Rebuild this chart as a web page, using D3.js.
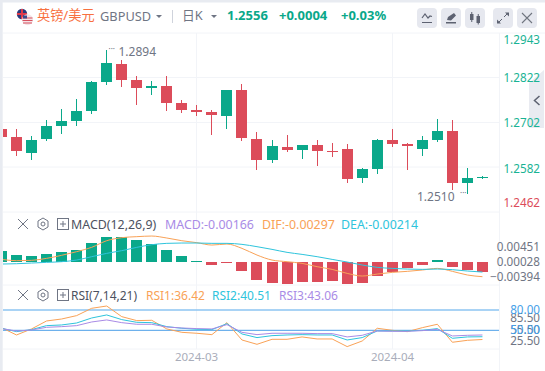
<!DOCTYPE html>
<html><head><meta charset="utf-8">
<style>html,body{margin:0;padding:0;background:#fff;overflow:hidden}svg{display:block}text{font-family:"Noto Sans","Noto Sans CJK SC",sans-serif}</style>
<script src="https://cdn.jsdelivr.net/npm/d3@7/dist/d3.min.js"></script>
</head><body><svg id="c" width="545" height="371"></svg>
<script>
const opens=[1.26835,1.26621,1.26192,1.26567,1.26916,1.27049,1.27317,1.28094,1.28576,1.28148,1.27933,1.27987,1.27532,1.27344,1.27291,1.27183,1.27880,1.26567,1.26005,1.26353,1.26273,1.26406,1.26246,1.26299,1.25523,1.25764,1.26540,1.26433,1.26299,1.26540,1.26782,1.25389,1.25523];
const closes=[1.26621,1.26246,1.26540,1.26916,1.27049,1.27317,1.28094,1.28603,1.28148,1.27933,1.27987,1.27532,1.27344,1.27291,1.27210,1.27880,1.26594,1.26005,1.26380,1.26273,1.26406,1.26246,1.26219,1.25496,1.25764,1.26540,1.26433,1.26380,1.26540,1.26782,1.25389,1.25523,1.25560];
const highs=[1.26835,1.26835,1.26648,1.27076,1.27371,1.27639,1.28121,1.2894,1.28683,1.28255,1.28121,1.28255,1.27612,1.27478,1.27344,1.27880,1.28041,1.26755,1.26540,1.26674,1.26406,1.26540,1.26460,1.26433,1.25791,1.26567,1.26835,1.26460,1.26648,1.27103,1.27076,1.25791,1.25576];
const lows=[1.26621,1.26112,1.26005,1.26513,1.26701,1.26916,1.27237,1.28014,1.27960,1.27478,1.27746,1.27317,1.27264,1.27183,1.26674,1.26835,1.26513,1.25737,1.25924,1.26219,1.26031,1.25844,1.26085,1.25389,1.25389,1.25630,1.26353,1.25737,1.26112,1.26487,1.25201,1.2510,1.25496];
const priceTicks=[1.2943,1.2822,1.2702,1.2582,1.2462];
const macdBars=[.00183,.00116,.00100,.00133,.00166,.00199,.00315,.00415,.00415,.00365,.00299,.00199,.00100,.00017,-.00050,-.00017,-.00149,-.00299,-.00349,-.00365,-.00332,-.00332,-.00315,-.00365,-.00349,-.00232,-.00166,-.00100,-.00050,.00033,-.00083,-.00133,-.00166];
const dif=[.00011,-.00012,-.00006,.00029,.00083,.00148,.00225,.00343,.00397,.00415,.00426,.00391,.00343,.00308,.00266,.00284,.00207,.00088,-.00001,-.00030,-.00060,-.00119,-.00167,-.00238,-.00285,-.00250,-.00220,-.00202,-.00178,-.00149,-.00202,-.00267,-.00297];
const dea=[-.00072,-.00066,-.00054,-.00042,-.00030,-.00001,.00059,.00118,.00166,.00225,.00272,.00296,.00302,.00302,.00296,.00296,.00278,.00237,.00189,.00136,.00100,.00059,.00011,-.00036,-.00089,-.00131,-.00149,-.00161,-.00167,-.00161,-.00172,-.00196,-.00214];
const macdTicks=[0.00451,0.00028,-0.00394];
const rsi1=[53.9,43.1,52.0,63.8,66.7,71.7,82.5,85.9,70.2,64.3,64.8,52.0,47.0,45.6,43.6,61.3,35.7,29.3,36.7,36.7,40.2,37.2,37.2,25.9,34.2,53.0,50.0,48.0,53.9,58.9,32.3,35.2,36.42];
const rsi2=[53.0,48.0,51.0,56.9,57.9,60.8,68.2,72.7,65.8,61.8,61.3,55.4,53.0,51.5,51.0,59.8,44.6,39.2,42.1,43.1,43.6,43.1,43.1,35.7,39.2,49.0,49.0,49.0,50.0,52.5,38.2,40.2,40.51];
const rsi3=[52.5,49.0,50.5,54.4,55.4,56.9,62.3,65.3,61.3,58.9,58.9,54.9,53.4,52.5,52.0,58.4,47.0,43.6,45.6,45.6,45.6,45.1,45.1,40.2,42.6,49.0,48.5,48.5,49.5,51.5,41.6,42.6,43.06];
const rsiLevels=[80,50];
const rsiTicks=[{t:"85.50",p:318},{t:"55.50",p:330},{t:"25.50",p:341}];
const dateTicks=[{i:13,t:"2024-03"},{i:26,t:"2024-04"}];

const GREEN="#0aa88a",RED="#dc4c5a",GRID="#f2f4f8",ORANGE="#f9a257",CYAN="#2ec4dc",PURPLE="#a98be6",GRAY="#6f7584";
const svg=d3.select("#c");
const n=opens.length;
const x=d3.scaleLinear().domain([0,32]).range([1.48,482.44]);
const px=i=>Math.floor(x(i))+.5;
const yP=d3.scaleLinear().domain([1.2822,1.2462]).range([77.3,211.7]);
const yBar=d3.scaleLinear().domain([0,-0.00166]).range([262,272]);
const yLine=d3.scaleLinear().domain([0,-0.00297]).range([260,276.7]);
const yMacdAxis=d3.scaleLinear().domain([0.00451,-0.00394]).range([247,276.5]);
const yR=d3.scaleLinear().domain([80,50]).range([310,330.3]);

// frame
svg.append("rect").attr("width",545).attr("height",371).attr("fill","#fff");
svg.append("rect").attr("width",545).attr("height",2.5).attr("fill","#e8ebf1");
svg.append("rect").attr("width",2.7).attr("height",371).attr("fill","#e8ebf1");
// grid
const g=svg.append("g").attr("stroke",GRID).attr("fill","none");
[33,77.5,122.5,167,212,285,349].forEach(v=>g.append("line").attr("x1",3).attr("x2",v==33?545:499).attr("y1",v).attr("y2",v).attr("stroke-width",1));
dateTicks.forEach(d=>g.append("line").attr("x1",px(d.i)).attr("x2",px(d.i)).attr("y1",33).attr("y2",349));
g.append("line").attr("x1",499.5).attr("x2",499.5).attr("y1",33).attr("y2",371);

const clip=svg.append("clipPath").attr("id","pl").append("rect").attr("x",3).attr("y",33).attr("width",496).attr("height",320);
const pl=svg.append("g").attr("clip-path","url(#pl)");

// candles
const idx=d3.range(n);
const col=i=>closes[i]>=opens[i]?GREEN:RED;
pl.append("g").selectAll("line").data(idx).join("line")
 .attr("x1",px).attr("x2",px).attr("y1",i=>Math.round(yP(highs[i]))).attr("y2",i=>Math.round(yP(lows[i])))
 .attr("stroke",col).attr("stroke-width",1);
pl.append("g").selectAll("rect").data(idx).join("rect")
 .attr("x",i=>px(i)-5.5).attr("width",11)
 .attr("y",i=>Math.round(yP(Math.max(opens[i],closes[i]))))
 .attr("height",i=>Math.max(1,Math.round(yP(Math.min(opens[i],closes[i])))-Math.round(yP(Math.max(opens[i],closes[i])))))
 .attr("fill",col);

// max / min labels
const maxI=7,minI=31;
svg.append("text").attr("x",px(maxI)+12).attr("y",yP(highs[maxI])+6).attr("font-size",12).attr("fill",GRAY).text("1.2894");
svg.append("text").attr("x",px(maxI)+2).attr("y",yP(highs[maxI])+2).attr("font-size",8).attr("fill",GRAY).text("···");
svg.append("text").attr("x",px(minI)-13).attr("y",yP(lows[minI])+7.5).attr("text-anchor","end").attr("font-size",12).attr("fill",GRAY).text("1.2510");
svg.append("text").attr("x",px(minI)-1).attr("y",yP(lows[minI])+2).attr("text-anchor","end").attr("font-size",8).attr("fill",GRAY).text("···");

// right tab (under the axis labels)
const I="#5d6271";
svg.append("path").attr("d","M544 70L529 83V128H544Z").attr("fill","#e9ebf1");
svg.append("path").attr("d","M539.5 96l-5 4.5 5 4.5").attr("fill","none").attr("stroke",I).attr("stroke-width",1.5);

// price axis
const priceY=[40,78,123,169,203],priceC=["#19b394","#19b394","#19b394","#19b394",RED];
priceTicks.forEach((t,i)=>svg.append("text").attr("x",540).attr("y",priceY[i]+4).attr("text-anchor","end").attr("font-size",11.7).attr("fill",priceC[i]).text(d3.format(".4f")(t)));

// MACD
pl.append("g").selectAll("rect").data(idx).join("rect")
 .attr("x",i=>px(i)-5.5).attr("width",11)
 .attr("y",i=>Math.round(Math.min(yBar(macdBars[i]),yBar(0))))
 .attr("height",i=>Math.max(1,Math.round(Math.abs(yBar(macdBars[i])-yBar(0)))))
 .attr("fill",i=>macdBars[i]>=0?GREEN:RED);
const curve=d3.curveMonotoneX;
const lMacd=d3.line().x((d,i)=>x(i)).y(d=>yLine(d)).curve(curve);
pl.append("path").attr("d",lMacd(dif)).attr("fill","none").attr("stroke",ORANGE).attr("stroke-width",1);
pl.append("path").attr("d",lMacd(dea)).attr("fill","none").attr("stroke",CYAN).attr("stroke-width",1);
macdTicks.forEach(t=>svg.append("text").attr("x",540).attr("y",yMacdAxis(t)+4).attr("text-anchor","end").attr("font-size",11.7).attr("fill",GRAY).text(d3.format(".5f")(t)));

// RSI
pl.append("line").attr("x1",3).attr("x2",499).attr("y1",yR(80)).attr("y2",yR(80)).attr("stroke","#8cc4f2").attr("stroke-width",1.5);
pl.append("line").attr("x1",3).attr("x2",499).attr("y1",yR(50)).attr("y2",yR(50)).attr("stroke","#4a9ee8").attr("stroke-width",1);
const lR=d3.line().x((d,i)=>x(i)).y(d=>yR(d));
[[rsi1,ORANGE],[rsi2,CYAN],[rsi3,PURPLE]].forEach(([s,c])=>pl.append("path").attr("d",lR(s)).attr("fill","none").attr("stroke",c).attr("stroke-width",1));
rsiTicks.forEach(t=>svg.append("text").attr("x",540).attr("y",t.p+4).attr("text-anchor","end").attr("font-size",11.7).attr("fill",GRAY).text(t.t));
rsiLevels.forEach(l=>svg.append("text").attr("x",540).attr("y",yR(l)+4).attr("text-anchor","end").attr("font-size",11.7).attr("fill","#45a0e8").text(l.toFixed(2)));

// dates
dateTicks.forEach(d=>svg.append("text").attr("x",px(d.i)).attr("y",361).attr("text-anchor","middle").attr("font-size",11.5).attr("fill","#a9adba").text(d.t));

// header
const T=(x0,y0,s,fs,c,w)=>svg.append("text").attr("x",x0).attr("y",y0).attr("font-size",fs).attr("fill",c).attr("font-weight",w||400).text(s);
T(37,20,"英镑/美元",13.2,"#f8703f");
T(100,21,"GBPUSD",12.8,GRAY);
svg.append("path").attr("d","M156 15h6l-3 3z").attr("fill",GRAY);
svg.append("line").attr("x1",172.5).attr("x2",172.5).attr("y1",10).attr("y2",23).attr("stroke","#cfd3dc");
T(182,20,"日K",12.8,GRAY);
svg.append("path").attr("d","M211 15h6l-3 3z").attr("fill",GRAY);
T(227,20,"1.2556",13,GREEN,700);
T(279,20,"+0.0004",13,GREEN,700);
T(341,20,"+0.03%",13,GREEN,700);

// flags
const f=svg.append("g");
f.append("circle").attr("cx",22).attr("cy",14).attr("r",5.2).attr("fill","#2b3a7a");
f.append("path").attr("d","M17 14h10M22 9v10").attr("stroke","#e03a4a").attr("stroke-width",2);
f.append("circle").attr("cx",27.5).attr("cy",19.7).attr("r",5.5).attr("fill","#f3e3e6");
f.append("path").attr("d","M22.5 18h10M22.5 20.5h10M23 23h9").attr("stroke","#d8505f").attr("stroke-width",1.1);
f.append("path").attr("d","M23 15.5h4v3h-4z").attr("fill","#3b4a8c");

// icon buttons
[417,441,465,493,517].forEach(x0=>svg.append("rect").attr("x",x0).attr("y",8).attr("width",20).attr("height",20).attr("rx",4).attr("fill","#e6e8ef"));
svg.append("path").attr("d","M422 22.5h10M422 18l3-4 3 4 2-2 2 .5").attr("fill","none").attr("stroke",I).attr("stroke-width",1.2);
svg.append("path").attr("d","M446 22h10v1.5h-10zM447 20l1-3 6-4 2 2.500-5 5z").attr("fill",I);
svg.append("path").attr("d","M470 14h3.500v6h-3.500zM476.500 16h3.500v7h-3.500z").attr("fill",I);
svg.append("path").attr("d","M471.750 12v10M478.250 14v10.500").attr("stroke",I);
svg.append("path").attr("d","M505 12.500h4v4zM501 23.500h-4v-4z").attr("fill",I);
svg.append("path").attr("d","M504 17l3-3M502 19l-3 3").attr("stroke",I);
svg.append("path").attr("d","M522 13l10 10M532 13l-10 10").attr("stroke","#70757f").attr("stroke-width",1.1);

// pane legends
function legend(y0,name,fs,items){
 const h=svg.append("g").attr("fill","none").attr("stroke",GRAY).attr("stroke-width",1);
 h.append("path").attr("d",`M18 ${y0-5}l10 10M28 ${y0-5}l-10 10`);
 h.append("path").attr("d",`M43 ${y0-6}l5 3v6l-5 3l-5-3v-6z`);
 h.append("circle").attr("cx",43).attr("cy",y0).attr("r",2);
 h.append("rect").attr("x",57.5).attr("y",y0-5.5).attr("width",11).attr("height",11);
 h.append("path").attr("d",`M60 ${y0}h6M63 ${y0-3}v6`);
 T(71,y0+4.5,name,fs,"#4c5160");
 items.forEach(([s,xx,c])=>T(xx,y0+4.5,s,fs,c));
}
legend(224,"MACD(12,26,9)",12.4,[["MACD:-0.00166",165,PURPLE],["DIF:-0.00297",262,ORANGE],["DEA:-0.00214",341,CYAN]]);
legend(295,"RSI(7,14,21)",12,[["RSI1:36.42",146,ORANGE],["RSI2:40.51",212,CYAN],["RSI3:43.06",279,PURPLE]]);
</script></body></html>
